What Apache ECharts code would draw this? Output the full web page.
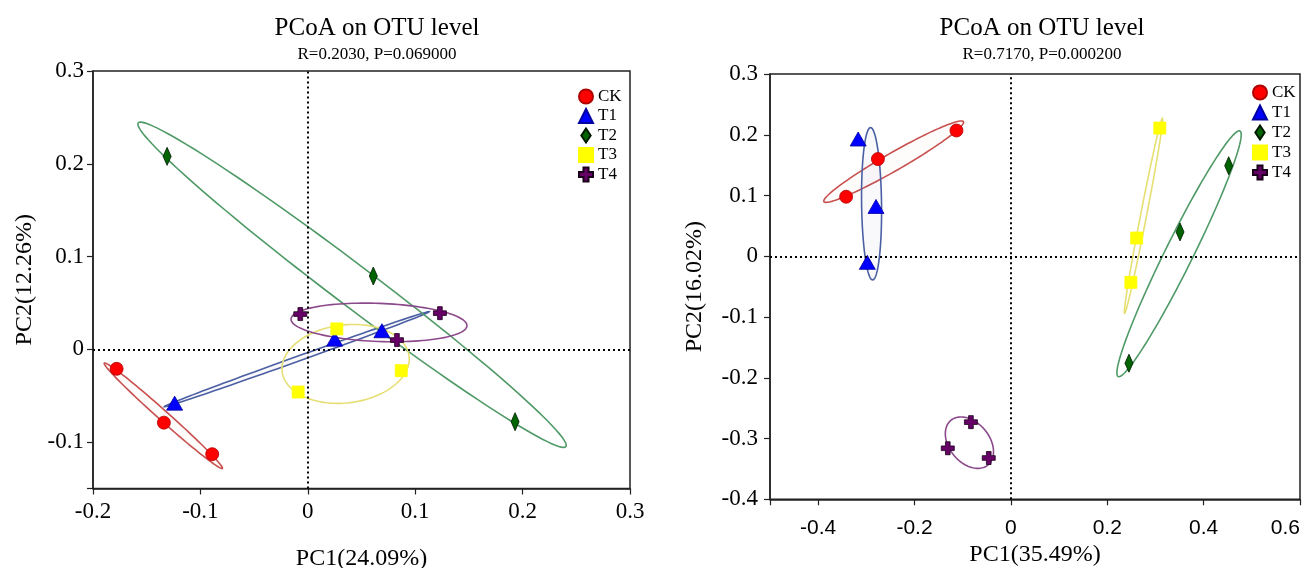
<!DOCTYPE html>
<html>
<head>
<meta charset="utf-8">
<title>PCoA on OTU level</title>
<script src="https://cdn.jsdelivr.net/npm/echarts@6/dist/echarts.min.js"></script>
<style>
html, body { margin: 0; padding: 0; background: #fff; }
#main { width: 1311px; height: 568px; }
</style>
</head>
<body>
<div id="main"></div>
<script>
var groups = ['CK', 'T1', 'T2', 'T3', 'T4'];

// left panel (PC1 24.09%, PC2 12.26%)
var leftCK = [[-0.178, -0.021], [-0.134, -0.079], [-0.089, -0.113]];
var leftT1 = [[-0.124, -0.058], [0.025, 0.011], [0.069, 0.020]];
var leftT2 = [[-0.131, 0.208], [0.061, 0.079], [0.193, -0.078]];
var leftT3 = [[0.027, 0.022], [0.087, -0.023], [-0.009, -0.046]];
var leftT4 = [[-0.007, 0.038], [0.123, 0.039], [0.083, 0.010]];

// right panel (PC1 35.49%, PC2 16.02%)
var rightCK = [[-0.342, 0.098], [-0.276, 0.160], [-0.113, 0.207]];
var rightT1 = [[-0.317, 0.193], [-0.280, 0.082], [-0.298, -0.010]];
var rightT2 = [[0.452, 0.149], [0.351, 0.040], [0.245, -0.176]];
var rightT3 = [[0.309, 0.211], [0.261, 0.030], [0.249, -0.043]];
var rightT4 = [[-0.083, -0.273], [-0.131, -0.316], [-0.046, -0.332]];

// ellipses: center x, center y, then two conjugate half-axes (x, y) in data units
var leftEllipses = [
  [-0.1345, -0.0716, -0.0550, 0.0568, -0.0031, -0.0040],
  [-0.0103, -0.0106, 0.1234, 0.0512, 0.0008, -0.0025],
  [0.0412, 0.0696, 0.1991, -0.1744, -0.0114, -0.0175],
  [0.0352, -0.0157, 0.0591, 0.0084, 0.0044, -0.0417],
  [0.0663, 0.0290, 0.0819, -0.0036, -0.0007, -0.0205]
];
var rightEllipses = [
  [-0.2433, 0.1557, 0.1448, 0.0658, 0.0093, -0.0128],
  [-0.2892, 0.0864, -0.0021, 0.1254, 0.0207, 0],
  [0.3490, 0.0041, 0.1264, 0.2021, 0.0259, -0.0102],
  [0.2752, 0.0667, 0.0393, 0.1605, 0.0061, -0.0009],
  [-0.0861, -0.3068, 0.0385, -0.0367, -0.0319, -0.0211]
];

var titles = ['PCoA on OTU level', 'PCoA on OTU level'];
var subtitles = ['R=0.2030, P=0.069000', 'R=0.7170, P=0.000200'];
var xNames = ['PC1(24.09%)', 'PC1(35.49%)'];
var yNames = ['PC2(12.26%)', 'PC2(16.02%)'];

var leftData = [leftCK, leftT1, leftT2, leftT3, leftT4];
var rightData = [rightCK, rightT1, rightT2, rightT3, rightT4];

var serif = 'Liberation Serif';
var sans = 'Liberation Sans';

var markColors = ['#ff0000', '#0000ff', '#006400', '#ffff00', '#660066'];
var markBorders = ['#b00000', '#0000a0', '#001a00', '#ffff00', '#1a001a'];
var markSymbols = [
  'circle',
  'triangle',
  'path://M6,0 L12,9 L6,18 L0,9 Z',
  'rect',
  'path://M3.2,0 H6.8 V3.2 H10 V6.8 H6.8 V10 H3.2 V6.8 H0 V3.2 H3.2 Z'
];
var markSizes = [13, [16, 14], [12, 18], 12, 13];
var ringColors = ['#c8504f', '#4b5fa3', '#4f9a66', '#e6df74', '#8c4a8c'];
var ringFills = ['rgba(220,120,120,0.03)', 'rgba(90,110,180,0.04)', 'rgba(255,255,255,0)',
                 'rgba(255,255,255,0)', 'rgba(255,255,255,0)'];

var dom = document.getElementById('main');
var myChart = echarts.init(dom);

function ellipseSeries(gi, list) {
  return {
    type: 'custom',
    name: 'ellipse' + gi,
    xAxisIndex: gi,
    yAxisIndex: gi,
    z: 1,
    silent: true,
    data: list.map(function (e) { return [e[0], e[1]]; }),
    renderItem: function (params, api) {
      var e = list[params.dataIndex];
      var pts = [];
      for (var k = 0; k < 120; k++) {
        var t = k / 120 * Math.PI * 2;
        pts.push(api.coord([
          e[0] + e[2] * Math.cos(t) + e[4] * Math.sin(t),
          e[1] + e[3] * Math.cos(t) + e[5] * Math.sin(t)
        ]));
      }
      return {
        type: 'polygon',
        shape: { points: pts },
        style: { fill: ringFills[params.dataIndex], stroke: ringColors[params.dataIndex], lineWidth: 1.6 }
      };
    }
  };
}

function pointSeries(gi, data) {
  return groups.map(function (g, i) {
    var s = {
      type: 'scatter',
      name: g,
      xAxisIndex: gi,
      yAxisIndex: gi,
      z: 3,
      symbol: markSymbols[i],
      symbolSize: markSizes[i],
      symbolKeepAspect: i === 2,
      itemStyle: { color: markColors[i], borderColor: markBorders[i], borderWidth: 0.8, opacity: 1 },
      data: data[i]
    };
    if (i === 0) {
      s.markLine = {
        silent: true,
        symbol: ['none', 'none'],
        label: { show: false },
        lineStyle: { color: '#000', type: [2, 3], width: 2 },
        data: [{ xAxis: 0 }, { yAxis: 0 }]
      };
    }
    return s;
  });
}

function hideEnd(endVal) {
  return function (v) {
    if (Math.abs(v - endVal) < 1e-9) return '';
    return String(Math.round(v * 10) / 10);
  };
}

var axisLineStyle = { show: true, onZero: false, lineStyle: { color: '#222', width: 1.5 } };
var tickStyle = { show: true, inside: false, length: 6, lineStyle: { color: '#222', width: 1.2 } };

option = {
  animation: false,
  backgroundColor: '#fff',
  title: [
    {
      text: titles[0], subtext: subtitles[0],
      left: 372, top: 11, textAlign: 'center', itemGap: 5,
      textStyle: { fontFamily: serif, fontSize: 25, fontWeight: 'normal', color: '#000' },
      subtextStyle: { fontFamily: serif, fontSize: 17, color: '#000' }
    },
    {
      text: titles[1], subtext: subtitles[1],
      left: 1037, top: 11, textAlign: 'center', itemGap: 5,
      textStyle: { fontFamily: serif, fontSize: 25, fontWeight: 'normal', color: '#000' },
      subtextStyle: { fontFamily: serif, fontSize: 17, color: '#000' }
    }
  ],
  legend: [
    {
      data: groups, orient: 'vertical', left: 573, top: 83,
      itemWidth: 14, itemHeight: 14, itemGap: 2.5,
      textStyle: { fontFamily: serif, fontSize: 17, color: '#000' }
    },
    {
      data: groups, orient: 'vertical', left: 1247, top: 79,
      itemWidth: 14, itemHeight: 14, itemGap: 3,
      textStyle: { fontFamily: serif, fontSize: 17, color: '#000' }
    }
  ],
  grid: [
    { left: 93, right: 681, top: 71, bottom: 79.5, outerBoundsMode: 'none', containLabel: false,
      show: true, borderColor: '#222', borderWidth: 1.5 },
    { left: 770, right: 11, top: 74, bottom: 68.7, outerBoundsMode: 'none', containLabel: false,
      show: true, borderColor: '#222', borderWidth: 1.5 }
  ],
  xAxis: [
    {
      gridIndex: 0, type: 'value', min: -0.2, max: 0.3, interval: 0.1,
      name: xNames[0], nameLocation: 'middle', nameGap: 58,
      nameTextStyle: { fontFamily: serif, fontSize: 24, color: '#000' },
      axisLine: axisLineStyle, axisTick: tickStyle, splitLine: { show: false },
      axisLabel: { fontFamily: serif, fontSize: 23, color: '#000', margin: 12, formatter: hideEnd(99) }
    },
    {
      gridIndex: 1, type: 'value', min: -0.5, max: 0.6, splitNumber: 5,
      name: xNames[1], nameLocation: 'middle', nameGap: 43,
      nameTextStyle: { fontFamily: serif, fontSize: 24, color: '#000' },
      axisLine: axisLineStyle, axisTick: tickStyle, splitLine: { show: false },
      axisLabel: { fontFamily: sans, fontSize: 21, color: '#000', margin: 18, alignMaxLabel: 'right',
                   formatter: hideEnd(-0.5) }
    }
  ],
  yAxis: [
    {
      gridIndex: 0, type: 'value', min: -0.15, max: 0.3, splitNumber: 5,
      name: yNames[0], nameLocation: 'middle', nameGap: 56,
      nameTextStyle: { fontFamily: serif, fontSize: 24, color: '#000' },
      axisLine: axisLineStyle, axisTick: tickStyle, splitLine: { show: false },
      axisLabel: { fontFamily: serif, fontSize: 23, color: '#000', margin: 9, formatter: hideEnd(-0.15) }
    },
    {
      gridIndex: 1, type: 'value', min: -0.4, max: 0.3, interval: 0.1,
      name: yNames[1], nameLocation: 'middle', nameGap: 63,
      nameTextStyle: { fontFamily: serif, fontSize: 24, color: '#000' },
      axisLine: axisLineStyle, axisTick: tickStyle, splitLine: { show: false },
      axisLabel: { fontFamily: serif, fontSize: 23, color: '#000', margin: 12, formatter: hideEnd(99) }
    }
  ],
  series: [ellipseSeries(0, leftEllipses), ellipseSeries(1, rightEllipses)]
    .concat(pointSeries(0, leftData))
    .concat(pointSeries(1, rightData))
};

myChart.setOption(option);
</script>
</body>
</html>
